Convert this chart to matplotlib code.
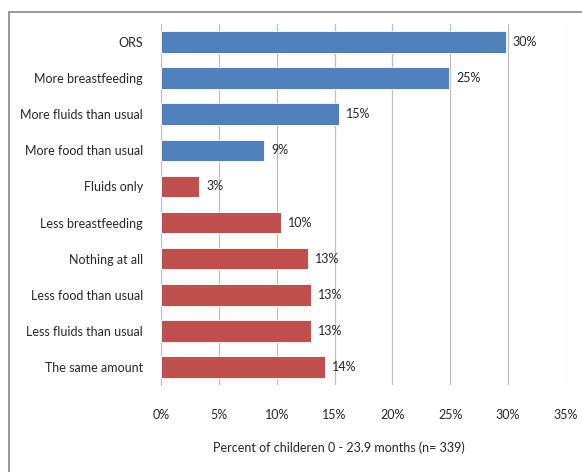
import matplotlib.pyplot as plt
from matplotlib.patches import Rectangle

categories = ['ORS', 'More breastfeeding', 'More fluids than usual', 'More food than usual',
              'Fluids only', 'Less breastfeeding', 'Nothing at all', 'Less food than usual',
              'Less fluids than usual', 'The same amount']
values = [29.8, 24.9, 15.4, 8.9, 3.3, 10.4, 12.7, 13.0, 13.0, 14.2]
labels = ['30%', '25%', '15%', '9%', '3%', '10%', '13%', '13%', '13%', '14%']
colors = ['#4F81BD'] * 4 + ['#C0504D'] * 6
xticks = [0, 5, 10, 15, 20, 25, 30, 35]

plt.rcParams['font.family'] = ['Lato', 'DejaVu Sans']
fs = 9

W, H = 582, 472
fig = plt.figure(figsize=(W / 100, H / 100), dpi=100)
ax = fig.add_axes([161 / W, 1 - 385 / H, (566 - 161) / W, (385 - 24) / H])

# outer chart frame
fig.patches.append(Rectangle((9 / W, -0.1), 1.2, 1 - 12 / H + 0.1, transform=fig.transFigure,
                             fill=False, edgecolor='#888888', linewidth=1.2))

y = list(range(len(categories)))
ax.barh(y, values, height=0.6, color=colors, edgecolor='white', linewidth=0.6, zorder=3)
for yi, v, lab in zip(y, values, labels):
    ax.text(v + 0.6, yi, lab, va='center', ha='left', fontsize=fs, color='#262626')

ax.set_ylim(len(categories) - 0.5, -0.5)
ax.set_xlim(0, 35)
ax.set_yticks(y)
ax.set_yticklabels(categories, fontsize=fs, color='#262626')
ax.set_xticks(xticks)
ax.set_xticklabels([f'{t}%' for t in xticks], fontsize=fs, color='#262626')
ax.tick_params(length=0)
ax.tick_params(axis='y', pad=13)
ax.tick_params(axis='x', pad=17)
ax.grid(axis='x', color='#BFBFBF', linewidth=0.9, zorder=0)
for s in ['top', 'right', 'bottom']:
    ax.spines[s].set_visible(False)
ax.spines['left'].set_color('#BFBFBF')
ax.set_xlabel('Percent of childeren 0 - 23.9 months (n= 339)', fontsize=fs, color='#262626')
ax.xaxis.set_label_coords(0.44, -0.155)

plt.savefig('out.png', dpi=100)
